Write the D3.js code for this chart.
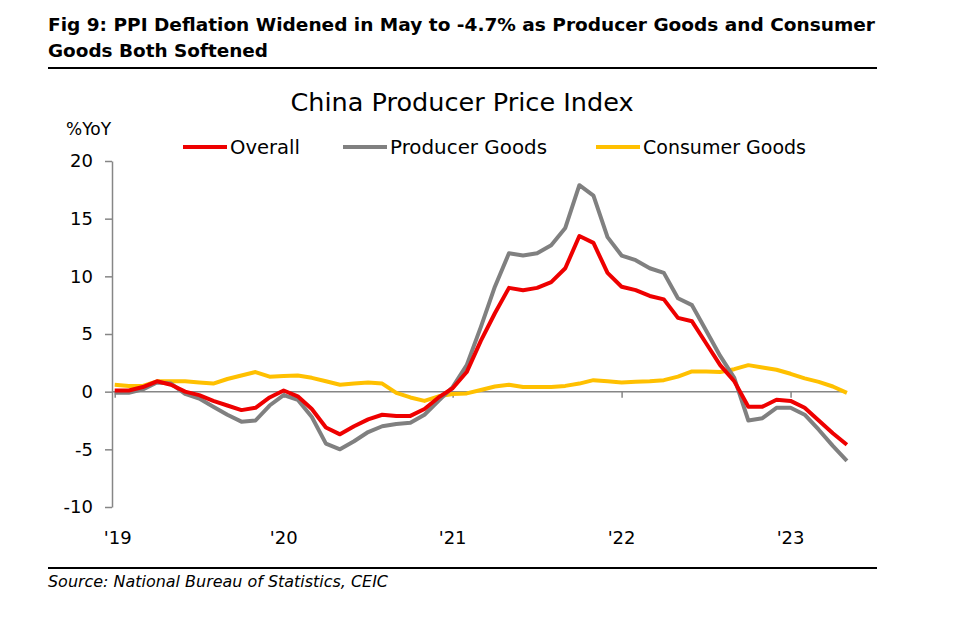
<!DOCTYPE html>
<html><head><meta charset="utf-8">
<script src="https://cdn.jsdelivr.net/npm/d3@7"></script>
<style>
html,body{margin:0;padding:0;background:#fff;}
svg text{font-family:"DejaVu Sans",Verdana,sans-serif;}
</style></head>
<body>
<svg id="c" width="963" height="621"></svg>
<script>
const months = [
 "Jan-19","Feb-19","Mar-19","Apr-19","May-19","Jun-19","Jul-19","Aug-19","Sep-19","Oct-19","Nov-19","Dec-19",
 "Jan-20","Feb-20","Mar-20","Apr-20","May-20","Jun-20","Jul-20","Aug-20","Sep-20","Oct-20","Nov-20","Dec-20",
 "Jan-21","Feb-21","Mar-21","Apr-21","May-21","Jun-21","Jul-21","Aug-21","Sep-21","Oct-21","Nov-21","Dec-21",
 "Jan-22","Feb-22","Mar-22","Apr-22","May-22","Jun-22","Jul-22","Aug-22","Sep-22","Oct-22","Nov-22","Dec-22",
 "Jan-23","Feb-23","Mar-23","Apr-23","May-23"];
const overall = [
 0.1,0.1,0.4,0.9,0.6,0.0,-0.3,-0.8,-1.2,-1.6,-1.4,-0.5,
 0.1,-0.4,-1.5,-3.1,-3.7,-3.0,-2.4,-2.0,-2.1,-2.1,-1.5,-0.5,
 0.3,1.7,4.4,6.8,9.0,8.8,9.0,9.5,10.7,13.5,12.9,10.3,
 9.1,8.8,8.3,8.0,6.4,6.1,4.2,2.3,0.9,-1.3,-1.3,-0.7,
 -0.8,-1.4,-2.5,-3.6,-4.6];
const producer = [
 -0.1,-0.1,0.2,0.8,0.7,-0.2,-0.6,-1.3,-2.0,-2.6,-2.5,-1.2,
 -0.3,-0.7,-2.2,-4.5,-5.0,-4.3,-3.5,-3.0,-2.8,-2.7,-2.0,-0.8,
 0.4,2.3,5.6,9.1,12.0,11.8,12.0,12.7,14.2,17.9,17.0,13.4,
 11.8,11.4,10.7,10.3,8.1,7.5,5.3,3.1,1.2,-2.5,-2.3,-1.4,
 -1.4,-2.0,-3.3,-4.7,-6.0];
const consumer = [
 0.6,0.5,0.5,0.9,0.9,0.9,0.8,0.7,1.1,1.4,1.7,1.3,
 1.35,1.4,1.2,0.9,0.6,0.7,0.8,0.7,-0.1,-0.5,-0.8,-0.4,
 -0.2,-0.15,0.15,0.45,0.6,0.4,0.4,0.4,0.5,0.7,1.0,0.9,
 0.8,0.85,0.9,1.0,1.3,1.75,1.75,1.7,1.95,2.3,2.1,1.9,
 1.55,1.15,0.85,0.45,-0.1];
const yTicks = [-10,-5,0,5,10,15,20];
const yearTicks = ["Jan-19","Jan-20","Jan-21","Jan-22","Jan-23"];
const yearLabels = ["'19","'20","'21","'22","'23"];
const seriesNames = ["Overall","Producer Goods","Consumer Goods"];
const colors = ["#ee0000","#808080","#ffc000"];

const svg = d3.select("#c");
const x = d3.scalePoint().domain(months).range([114.7, 846.9]);
const y = d3.scaleLinear().domain([-10, 20]).range([507, 161]);

// Title
const t = svg.append("g").attr("font-weight","bold").attr("font-size",17).attr("fill","#000");
t.append("text").attr("x",48).attr("y",31).attr("textLength",827).attr("lengthAdjust","spacingAndGlyphs")
  .text("Fig 9: PPI Deflation Widened in May to -4.7% as Producer Goods and Consumer");
t.append("text").attr("x",48).attr("y",57).attr("textLength",220).attr("lengthAdjust","spacingAndGlyphs")
  .text("Goods Both Softened");
svg.append("line").attr("x1",48).attr("x2",877).attr("y1",68).attr("y2",68).attr("stroke","#000").attr("stroke-width",2);
svg.append("line").attr("x1",48).attr("x2",877).attr("y1",568).attr("y2",568).attr("stroke","#000").attr("stroke-width",2);
svg.append("text").attr("x",48).attr("y",587).attr("font-style","italic").attr("font-size",15)
  .attr("textLength",340).attr("lengthAdjust","spacingAndGlyphs")
  .text("Source: National Bureau of Statistics, CEIC");

svg.append("text").attr("x",462).attr("y",111).attr("text-anchor","middle").attr("font-size",25)
  .attr("textLength",343).attr("lengthAdjust","spacingAndGlyphs").text("China Producer Price Index");
svg.append("text").attr("x",66).attr("y",135).attr("font-size",17).text("%YoY");

// Y axis
const ya = svg.append("g").attr("transform","translate(112,0)")
  .call(d3.axisLeft(y).tickValues(yTicks).tickSize(7).tickSizeOuter(0).tickPadding(12).tickFormat(d=>String(d)));
ya.selectAll("path,line").attr("stroke","#868686").attr("stroke-width",1.5);
ya.selectAll("text").attr("font-size",18).attr("fill","#000").attr("font-family","DejaVu Sans, Verdana, sans-serif");

// X axis at zero
const xa = svg.append("g").attr("transform",`translate(0,${y(0)})`)
  .call(d3.axisBottom(x).tickValues(yearTicks).tickSize(6).tickSizeOuter(0).tickFormat(""));
xa.select("path.domain").attr("d",`M112,0H${x("May-23")}`);
xa.selectAll("path,line").attr("stroke","#868686").attr("stroke-width",1.5);
svg.append("g").selectAll("text").data(yearTicks).join("text")
  .attr("x",d=>x(d)+ (d==="Jan-19"?3:0)).attr("y",544).attr("text-anchor","middle").attr("font-size",18)
  .text((d,i)=>yearLabels[i]);

// Lines
const allSeries = [overall, producer, consumer];
const line = d3.line().x((d,i)=>x(months[i])).y(d=>y(d));
[2,1,0].forEach(k=>{
  svg.append("path").datum(allSeries[k]).attr("d",line).attr("fill","none")
    .attr("stroke",colors[k]).attr("stroke-width",4).attr("stroke-linejoin","round");
});

// Legend
const legX = [183, 343, 596];
const legW = [70, 157, 163];
const lg = svg.append("g");
seriesNames.forEach((n,k)=>{
  lg.append("line").attr("x1",legX[k]).attr("x2",legX[k]+44).attr("y1",147).attr("y2",147)
    .attr("stroke",colors[k]).attr("stroke-width",4);
  lg.append("text").attr("x",legX[k]+47).attr("y",154).attr("font-size",19)
    .attr("textLength",legW[k]).attr("lengthAdjust","spacingAndGlyphs").text(n);
});
</script>
</body></html>
